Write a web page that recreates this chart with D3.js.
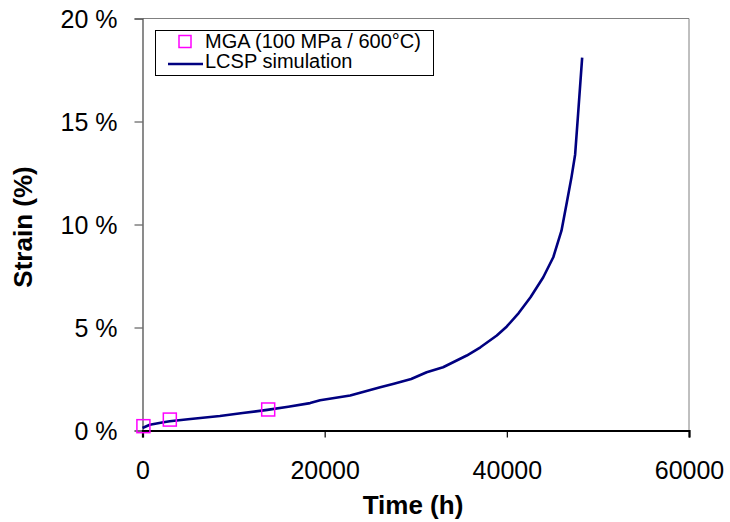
<!DOCTYPE html>
<html><head><meta charset="utf-8">
<script src="https://cdn.jsdelivr.net/npm/d3@7"></script>
<style>
html,body{margin:0;padding:0;background:#fff;}
svg text{font-family:"Liberation Sans",Arial,sans-serif;}
</style></head>
<body><svg id="chart" width="730" height="522"></svg>
<script>
// Data
const simTime   = [0, 800, 2300, 3000, 5000, 8500, 11000, 13700, 16000, 18400, 19500, 22800, 24000, 26100, 27600, 29500, 31200, 33000, 35600, 37100, 38900, 40000, 41300, 42600, 44000, 45100, 46000, 46600, 47100, 47500, 47830, 48270];
const simStrain = [0.12, 0.28, 0.40, 0.45, 0.55, 0.70, 0.85, 1.00, 1.15, 1.33, 1.47, 1.70, 1.85, 2.10, 2.27, 2.50, 2.83, 3.07, 3.64, 4.04, 4.61, 5.05, 5.70, 6.47, 7.44, 8.41, 9.70, 11.10, 12.30, 13.40, 15.40, 18.10];
const mgaTime   = [100, 3000, 13800];
const mgaStrain = [0.21, 0.53, 1.02];
const xTicks = [0, 20000, 40000, 60000];
const yTicks = [0, 5, 10, 15, 20];
const legendLabels = ["MGA (100 MPa / 600°C)", "LCSP simulation"];

const svg = d3.select("#chart");
const L = 142.5, R = 689, T = 18.5, B = 430.5;
const x = d3.scaleLinear().domain([0, 60000]).range([L, R]);
const y = d3.scaleLinear().domain([0, 20]).range([B, T]);

// frame top/right
svg.append("path").attr("d", `M${L},${T}H${R}V${B}`).attr("fill","none").attr("stroke","#808080").attr("stroke-width",1);

// y axis
const ya = svg.append("g").attr("transform", `translate(${L},0)`)
  .call(d3.axisLeft(y).tickValues(yTicks).tickSize(8).tickPadding(17).tickFormat(d => d + " %"));
ya.select(".domain").attr("stroke","#404040").attr("stroke-width",1.2);
ya.selectAll(".tick line").attr("stroke","#404040");
ya.selectAll("text").attr("font-size", 25).attr("fill","#000").attr("dy","0.36em");

// x axis
const xa = svg.append("g").attr("transform", `translate(0,${B})`)
  .call(d3.axisBottom(x).tickValues(xTicks).tickSize(7).tickSizeOuter(7).tickPadding(24).tickFormat(d3.format("d")));
xa.select(".domain").attr("stroke","#000").attr("stroke-width",2.2);
xa.selectAll(".tick line").attr("stroke","#000").attr("stroke-width",1.2);
xa.selectAll("text").attr("font-size", 25).attr("fill","#000");

// axis titles
svg.append("text").attr("x", 413).attr("y", 514).attr("text-anchor","middle")
  .attr("font-size", 26).attr("font-weight","bold").text("Time (h)");
svg.append("text").attr("transform", "translate(32,227) rotate(-90)").attr("text-anchor","middle")
  .attr("font-size", 26).attr("font-weight","bold").text("Strain (%)");

// simulation line
const simData = simTime.map((t,i) => [t, simStrain[i]]);
svg.append("path").datum(simData)
  .attr("d", d3.line().x(d => x(d[0])).y(d => y(d[1])).curve(d3.curveLinear))
  .attr("fill","none").attr("stroke","#000080").attr("stroke-width",2.6).attr("stroke-linejoin","round");

// MGA markers
const ms = 13;
svg.selectAll("rect.mga").data(mgaTime.map((t,i)=>[t,mgaStrain[i]])).enter().append("rect")
  .attr("class","mga")
  .attr("x", d => x(d[0]) - ms/2).attr("y", d => y(d[1]) - ms/2)
  .attr("width", ms).attr("height", ms)
  .attr("fill","none").attr("stroke","#FF00FF").attr("stroke-width",1.5);

// legend
const lg = svg.append("g");
lg.append("rect").attr("x",155.5).attr("y",30.5).attr("width",278).attr("height",45)
  .attr("fill","#fff").attr("stroke","#000").attr("stroke-width",1);
lg.append("rect").attr("x",179).attr("y",35.5).attr("width",12).attr("height",12)
  .attr("fill","none").attr("stroke","#FF00FF").attr("stroke-width",1.5);
lg.append("line").attr("x1",168).attr("x2",203).attr("y1",64).attr("y2",64)
  .attr("stroke","#000080").attr("stroke-width",2.6);
lg.selectAll("text.lg").data(legendLabels).enter().append("text").attr("class","lg")
  .attr("x",205).attr("y",(d,i)=>48 + i*20).attr("font-size",20).attr("fill","#000").text(d=>d);
</script></body></html>
